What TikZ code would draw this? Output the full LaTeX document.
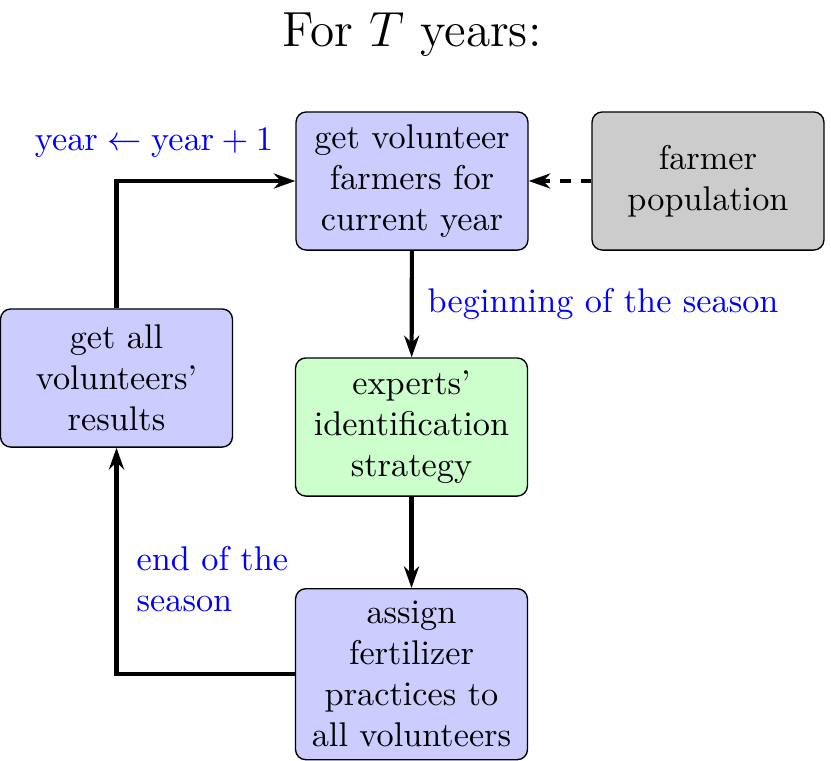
\documentclass[tikz,border=0pt]{standalone}
\usetikzlibrary{arrows.meta}
\definecolor{boxblue}{RGB}{204,204,255}
\definecolor{boxgreen}{RGB}{204,255,204}
\definecolor{boxgray}{RGB}{204,204,204}
\begin{document}
\begin{tikzpicture}[x=0.2917pt,y=-0.2917pt,
  stepbox/.style={draw=black, rounded corners=3pt, text width=61pt, align=center,
    minimum height=40.3pt, inner sep=3.33pt},
  flow/.style={very thick, -{Stealth[length=6.3pt,width=4.4pt]}},
  lbl/.style={text=blue}]
\useasboundingbox (0,0) rectangle (831,760);
\node (title) at (412,35) {\Large For $T$ years:};
\node[stepbox, fill=boxblue] (get) at (412,181) {get volunteer farmers for current year};
\node[stepbox, fill=boxgray] (pop) at (708,181) {farmer population};
\node[stepbox, fill=boxgreen] (exp) at (411.5,427) {experts' identification strategy};
\node[stepbox, fill=boxblue, anchor=north, inner ysep=3.6pt] (assign) at (411.5,588) {assign fertilizer practices to all volunteers};
\node[stepbox, fill=boxblue] (res) at (116.5,378) {get all volunteers' results};
\draw[flow] (get) -- (exp);
\draw[flow] (exp) -- (assign);
\draw[flow] (assign.west) -| (res.south);
\draw[flow] (res.north) |- (get.west);
\draw[flow, dashed] (pop) -- (get);
\node[lbl] (yl) at (154,143) {$\mathrm{year}\leftarrow\mathrm{year}+1$};
\node[lbl, anchor=west, inner sep=0pt] (bl) at (427,304) {beginning of the season};
\node[lbl, anchor=west, align=left, inner sep=0pt] (el) at (136,579) {end of the\\season};
\end{tikzpicture}
\end{document}
